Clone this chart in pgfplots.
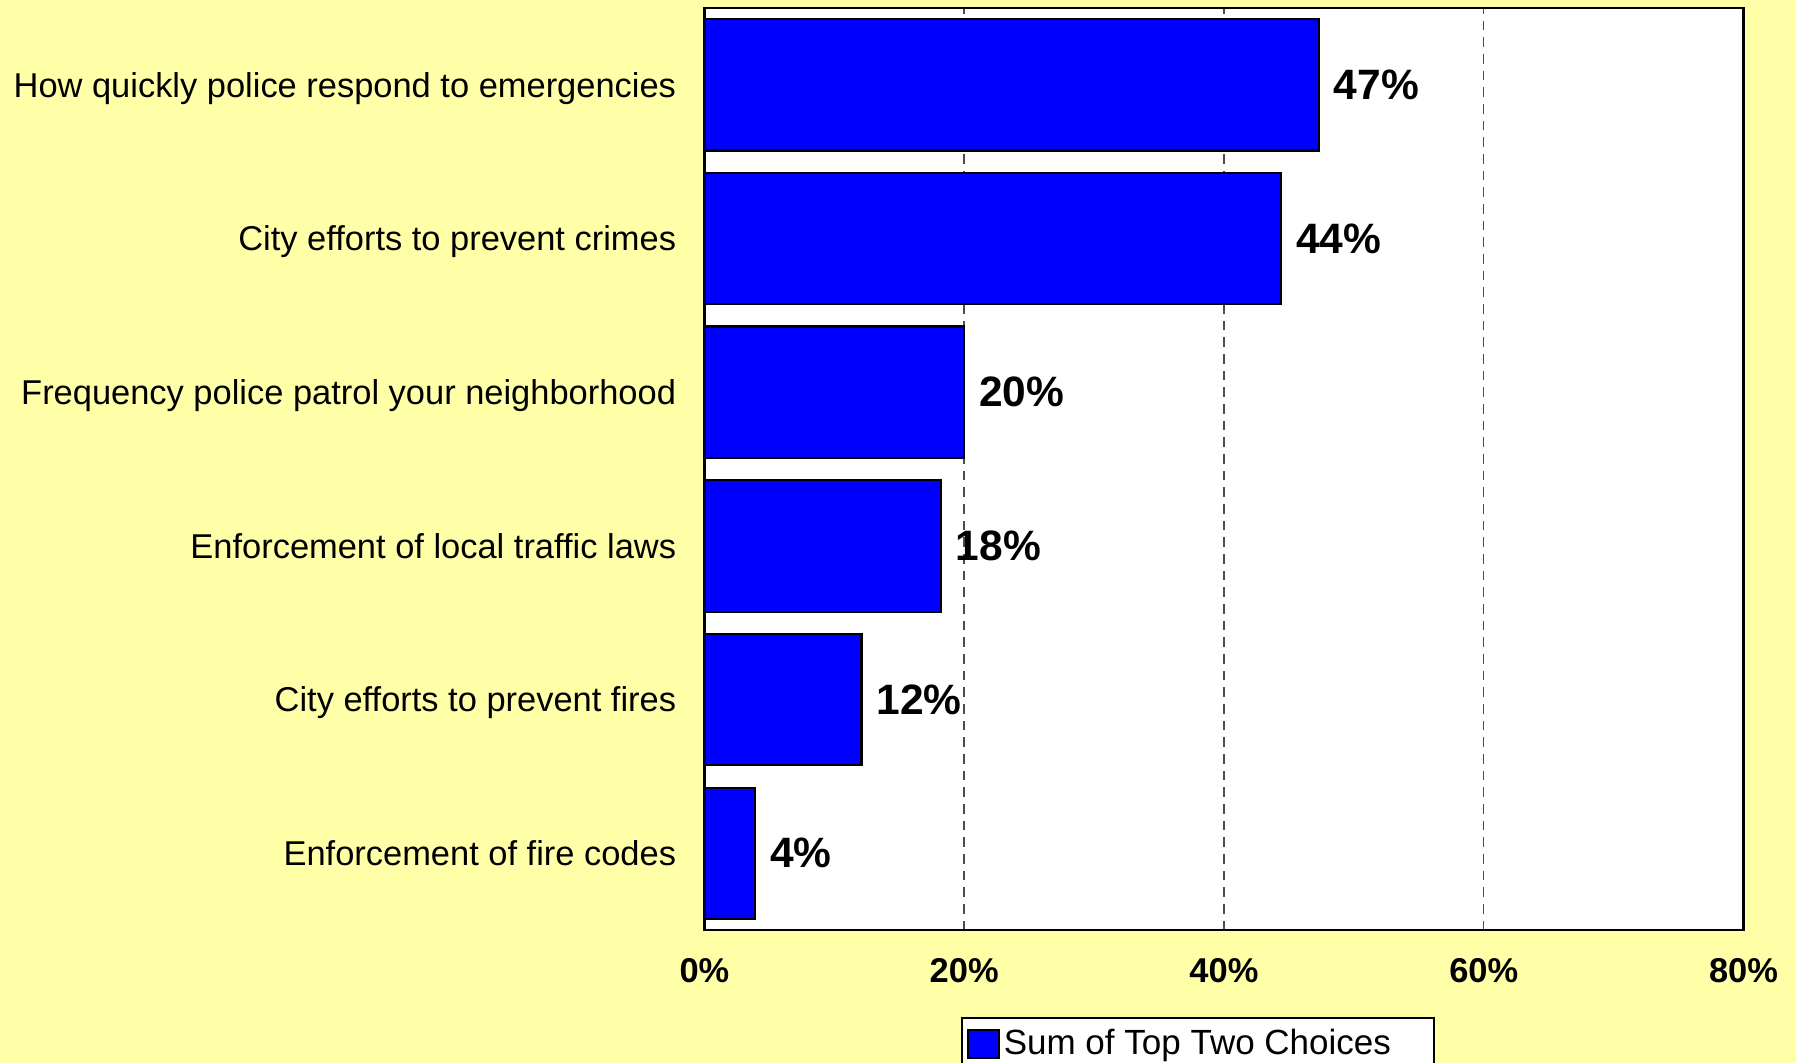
\documentclass[border=0pt]{standalone}
\usepackage{pgfplots}
\pgfplotsset{compat=1.18}
\usepackage{pgfplotstable}
\usepackage{fontspec}
\setmainfont{Liberation Sans}
\definecolor{bgyellow}{RGB}{255,255,168}
\definecolor{barblue}{RGB}{0,0,255}
\pgfplotstableread{
y x label
5 47.3 47
4 44.4 44
3 20.0 20
2 18.2 18
1 12.1 12
0 3.9 4
}\data
\begin{document}
\begin{tikzpicture}
\fill[bgyellow] (-253.6pt,-47.8pt) rectangle (393pt,334.9pt);
\begin{axis}[
  at={(0,0)}, anchor=south west,
  scale only axis, width=374.1pt, height=332pt,
  xbar, bar width=0.855,
  xmin=0, xmax=80, ymin=-0.5, ymax=5.5,
  xtick={0,20,40,60,80},
  xticklabels={0\%,20\%,40\%,60\%,80\%},
  ytick={0,1,2,3,4,5},
  yticklabels={Enforcement of fire codes,City efforts to prevent fires,Enforcement of local traffic laws,Frequency police patrol your neighborhood,City efforts to prevent crimes,How quickly police respond to emergencies},
  major tick length=0pt,
  xmajorgrids,
  major x grid style={black!70, line width=0.5pt, dash pattern=on 3.5pt off 2.5pt},
  axis line style={line width=0.9pt, black},
  axis background/.style={fill=white},
  xticklabel style={font=\bfseries\fontsize{12.4}{14}\selectfont, inner sep=0pt, anchor=base, yshift=-18.9pt},
  yticklabel style={font=\fontsize{12.4}{14}\selectfont, inner sep=0pt, anchor=base east, xshift=-10pt, yshift=-4.4pt},
  point meta=explicit symbolic,
  nodes near coords={\pgfplotspointmeta\%},
  nodes near coords style={font=\bfseries\fontsize{15.3}{18}\selectfont, inner sep=0pt, anchor=west, xshift=5pt},
  legend style={at={(0.247,-0.0943)}, anchor=north west, draw=black, line width=0.6pt, fill=white,
    font=\fontsize{12.6}{14}\selectfont, inner xsep=2pt, inner ysep=2.5pt,
    nodes={inner sep=1.5pt}},
  legend cell align=left,
  legend image code/.code={\draw[fill=barblue,draw=black,line width=0.6pt] (0pt,-5pt) rectangle (11pt,5pt);},
]
\addplot[fill=barblue, draw=black, line width=0.8pt] table[x=x, y=y, meta=label] {\data};
\addlegendentry{Sum of Top Two Choices\hspace*{12pt}}
\end{axis}
\pgfresetboundingbox
\path[use as bounding box] (-253.6pt,-47.8pt) rectangle (393pt,334.9pt);
\end{tikzpicture}
\end{document}
